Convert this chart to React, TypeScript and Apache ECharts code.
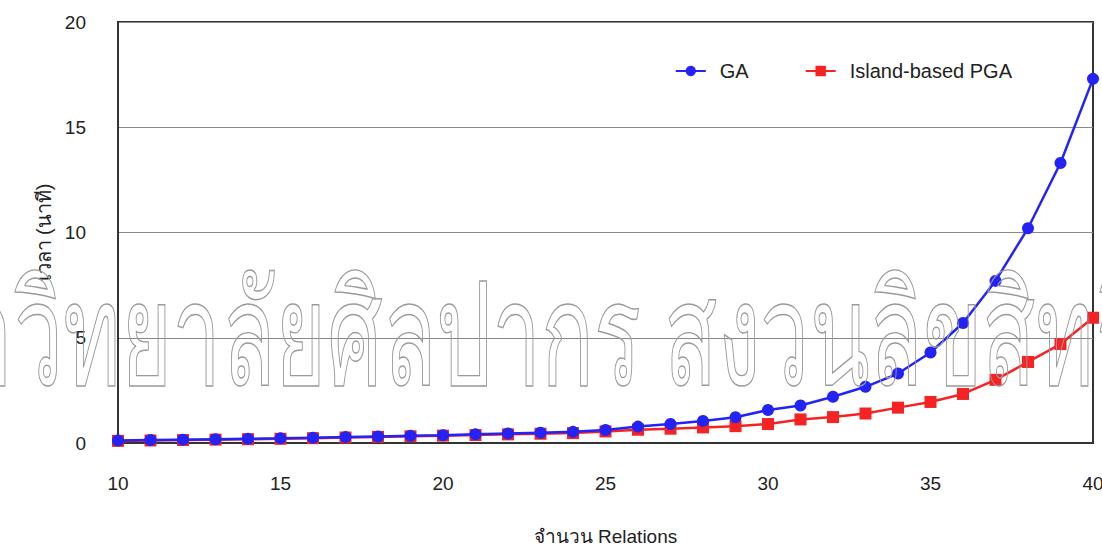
import React, { useEffect, useRef } from "react";
import * as echarts from "echarts";

const relations = [10, 11, 12, 13, 14, 15, 16, 17, 18, 19, 20, 21, 22, 23, 24, 25, 26, 27, 28, 29, 30, 31, 32, 33, 34, 35, 36, 37, 38, 39, 40];
const gaTimes = [0.12, 0.14, 0.16, 0.18, 0.2, 0.22, 0.25, 0.28, 0.31, 0.34, 0.37, 0.41, 0.45, 0.49, 0.53, 0.62, 0.78, 0.9, 1.05, 1.22, 1.57, 1.78, 2.2, 2.67, 3.3, 4.3, 5.7, 7.7, 10.2, 13.3, 17.3];
const pgaTimes = [0.1, 0.12, 0.14, 0.16, 0.18, 0.2, 0.23, 0.26, 0.29, 0.32, 0.35, 0.38, 0.41, 0.44, 0.47, 0.55, 0.63, 0.68, 0.74, 0.8, 0.9, 1.12, 1.23, 1.4, 1.68, 1.95, 2.33, 3.0, 3.85, 4.7, 5.95];
const seriesNames = ["GA", "Island-based PGA"];
const xTitle = "จำนวน Relations";
const yTitle = "เวลา (นาที)";
const watermark = "มหาวิทยาลัยศิลปากร สงวนลิขสิทธิ์";

const FONT = "'Liberation Sans', Arial, sans-serif";

export default function App() {
  const ref = useRef<HTMLDivElement>(null);
  useEffect(() => {
    if (!ref.current) return;
    const chart = echarts.init(ref.current, null, { renderer: "svg" });
    chart.setOption({
      animation: false,
      backgroundColor: "#ffffff",
      textStyle: { fontFamily: FONT },
      grid: {
        left: 118, right: 9, top: 22, bottom: 105,
        outerBoundsMode: "none",
        containLabel: false,
        show: true, borderColor: "#333", borderWidth: 2, backgroundColor: "transparent",
      },
      legend: {
        data: seriesNames,
        top: 56,
        right: 85,
        itemWidth: 30,
        itemHeight: 13,
        itemGap: 56,
        textStyle: { fontSize: 20, color: "#222", fontFamily: FONT, padding: [0, 0, 0, 9] },
      },
      xAxis: {
        type: "value",
        min: 10,
        max: 40,
        interval: 5,
        name: xTitle,
        nameLocation: "middle",
        nameGap: 84,
        nameTextStyle: { fontSize: 19, color: "#222", fontFamily: FONT },
        axisLine: { lineStyle: { color: "#333", width: 2 } },
        axisTick: { show: false },
        splitLine: { show: false },
        axisLabel: { margin: 31, fontSize: 19, color: "#222", fontFamily: FONT },
      },
      yAxis: {
        type: "value",
        min: 0,
        max: 20,
        interval: 5,
        name: yTitle,
        nameLocation: "middle",
        nameGap: 62,
        nameRotate: 90,
        nameTextStyle: { fontSize: 20, color: "#222", fontFamily: FONT },
        axisLine: { show: true, lineStyle: { color: "#333", width: 2 } },
        axisTick: { show: false },
        splitLine: { lineStyle: { color: "#888", width: 1 } },
        axisLabel: { margin: 32, fontSize: 19, color: "#222", fontFamily: FONT },
      },
      graphic: [
        {
          type: "text",
          x: 498,
          y: 329,
          scaleX: 0.73,
          scaleY: 1.2,
          z: 100,
          silent: true,
          style: {
            text: watermark,
            font: "normal 120px 'Noto Sans', sans-serif",
            align: "center",
            verticalAlign: "middle",
            fill: "transparent",
            stroke: "#9a9a9a",
            lineWidth: 1.2,
          },
        },
      ],
      series: [
        {
          name: seriesNames[0],
          type: "line",
          z: 3,
          data: relations.map((r, i) => [r, gaTimes[i]]),
          symbol: "circle",
          symbolSize: 12,
          itemStyle: { color: "#2323f5" },
          lineStyle: { color: "#2323f5", width: 2.5 },
        },
        {
          name: seriesNames[1],
          type: "line",
          z: 2,
          data: relations.map((r, i) => [r, pgaTimes[i]]),
          symbol: "rect",
          symbolSize: 12,
          itemStyle: { color: "#f52323" },
          lineStyle: { color: "#f52323", width: 2.5 },
        },
      ],
    });
    return () => chart.dispose();
  }, []);
  return <div ref={ref} style={{ width: 1102, height: 548, position: "absolute", left: 0, top: 0 }} />;
}
